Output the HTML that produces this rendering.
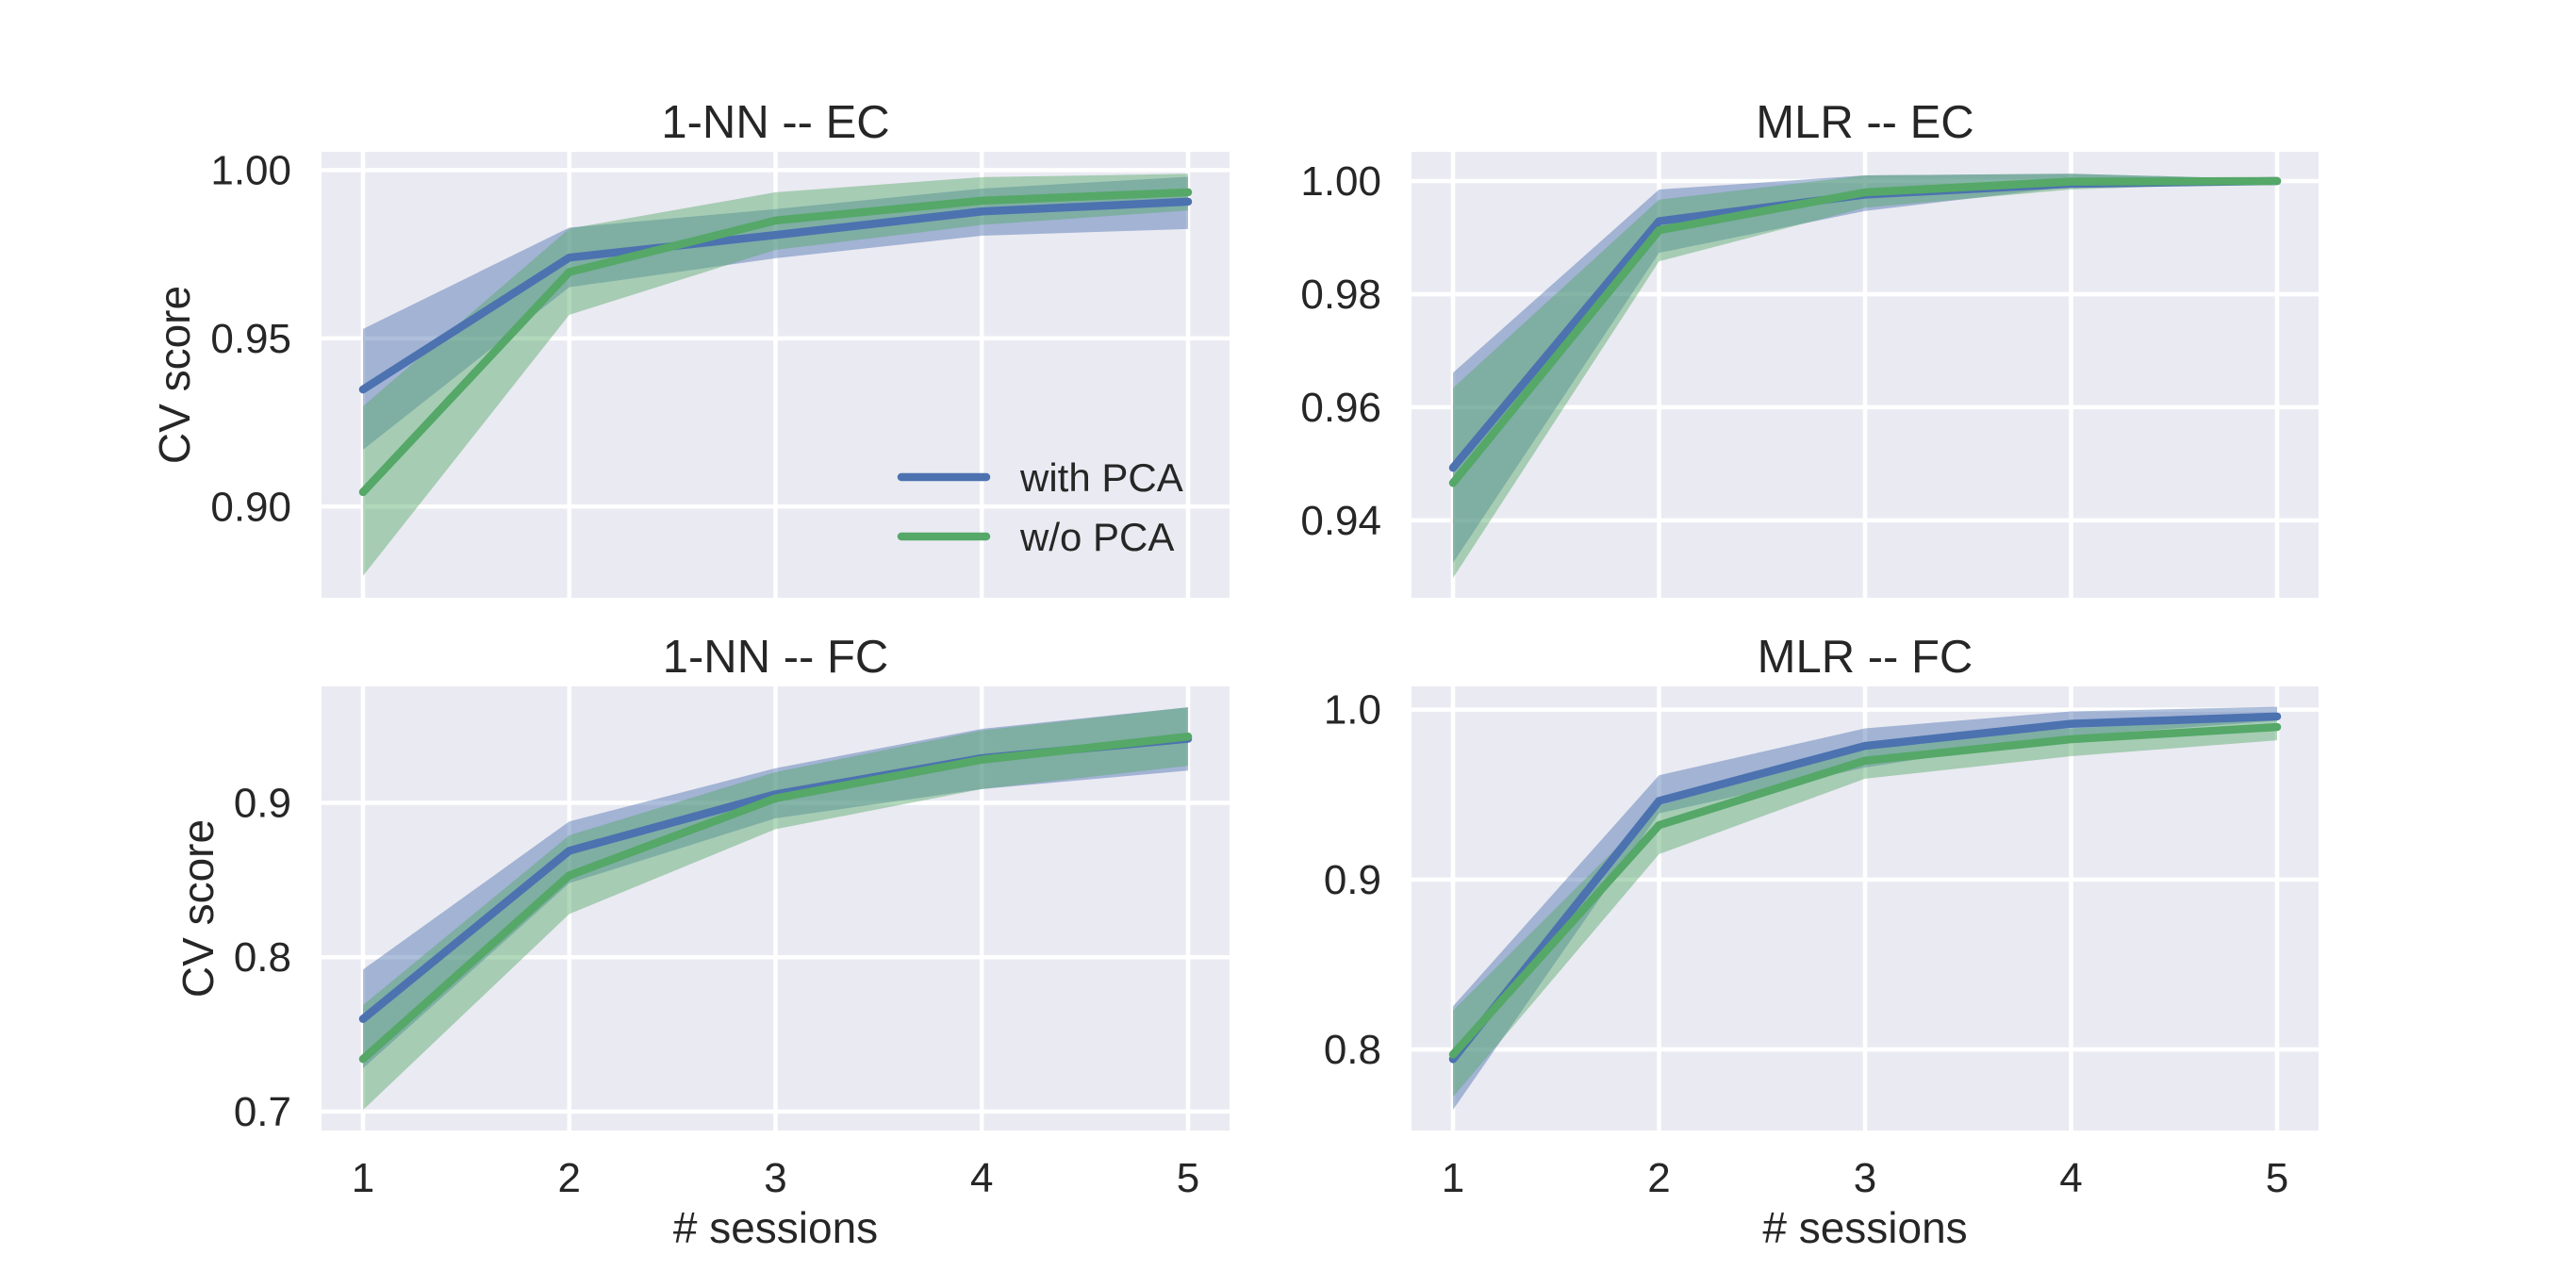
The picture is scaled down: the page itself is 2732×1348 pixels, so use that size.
<!DOCTYPE html>
<html><head><meta charset="utf-8">
<style>
html,body{margin:0;padding:0;background:#fff;}
svg{display:block;font-family:"Liberation Sans",Arial,sans-serif;}
</style></head>
<body>
<svg id="fig" width="2732" height="1348" viewBox="0 0 2732 1348" xmlns="http://www.w3.org/2000/svg"></svg>
<script>
const sessions = [1, 2, 3, 4, 5];
const seriesNames = ["with PCA", "w/o PCA"];
// 1-NN -- EC
const nnEcPcaMean = [0.9348, 0.974, 0.9807, 0.9877, 0.9906];
const nnEcPcaLow  = [0.9169, 0.9652, 0.9738, 0.9805, 0.9825];
const nnEcPcaHigh = [0.9528, 0.9829, 0.9884, 0.9945, 0.998];
const nnEcRawMean = [0.9043, 0.9697, 0.985, 0.9909, 0.9934];
const nnEcRawLow  = [0.8794, 0.957, 0.9763, 0.9837, 0.988];
const nnEcRawHigh = [0.9298, 0.9826, 0.9934, 0.9979, 0.9989];
const nnEcTicks = [0.90, 0.95, 1.00];
const nnEcTickLabels = ["0.90", "0.95", "1.00"];
// MLR -- EC
const mlrEcPcaMean = [0.9493, 0.9929, 0.9976, 0.9995, 1.0];
const mlrEcPcaLow  = [0.9325, 0.9873, 0.9947, 0.999, 0.9998];
const mlrEcPcaHigh = [0.9661, 0.9985, 1.001, 1.0013, 1.0003];
const mlrEcRawMean = [0.9466, 0.9913, 0.998, 0.9999, 1.0];
const mlrEcRawLow  = [0.9298, 0.9858, 0.9953, 0.9985, 0.9997];
const mlrEcRawHigh = [0.9634, 0.9967, 1.001, 1.0013, 1.0003];
const mlrEcTicks = [0.94, 0.96, 0.98, 1.00];
const mlrEcTickLabels = ["0.94", "0.96", "0.98", "1.00"];
// 1-NN -- FC
const nnFcPcaMean = [0.760, 0.869, 0.9056, 0.929, 0.9416];
const nnFcPcaLow  = [0.728, 0.848, 0.89, 0.909, 0.921];
const nnFcPcaHigh = [0.792, 0.888, 0.9225, 0.948, 0.962];
const nnFcRawMean = [0.734, 0.853, 0.903, 0.928, 0.943];
const nnFcRawLow  = [0.701, 0.828, 0.883, 0.909, 0.924];
const nnFcRawHigh = [0.769, 0.879, 0.92, 0.947, 0.962];
const nnFcTicks = [0.7, 0.8, 0.9];
const nnFcTickLabels = ["0.7", "0.8", "0.9"];
// MLR -- FC
const mlrFcPcaMean = [0.7943, 0.9463, 0.9787, 0.9917, 0.996];
const mlrFcPcaLow  = [0.7645, 0.939, 0.966, 0.9845, 0.9935];
const mlrFcPcaHigh = [0.8254, 0.9614, 0.989, 0.999, 1.0017];
const mlrFcRawMean = [0.797, 0.932, 0.970, 0.9826, 0.9898];
const mlrFcRawLow  = [0.772, 0.915, 0.9594, 0.9726, 0.982];
const mlrFcRawHigh = [0.823, 0.9435, 0.980, 0.989, 0.995];
const mlrFcTicks = [0.8, 0.9, 1.0];
const mlrFcTickLabels = ["0.8", "0.9", "1.0"];

const NS = "http://www.w3.org/2000/svg";
const svg = document.getElementById("fig");
const BLUE = "#4C72B0", GREEN = "#55A868", TXT = "#262626";
function mk(tag, attrs, parent) {
  const e = document.createElementNS(NS, tag);
  for (const k in attrs) e.setAttribute(k, attrs[k]);
  (parent || svg).appendChild(e);
  return e;
}
const panels = [
  {key:"nn-ec", title:"1-NN -- EC", x0:341, x1:1304, y0:161, y1:634, ymin:0.8729, ymax:1.00543, ticks:nnEcTicks, labels:nnEcTickLabels,
   pm:nnEcPcaMean, pl:nnEcPcaLow, ph:nnEcPcaHigh, rm:nnEcRawMean, rl:nnEcRawLow, rh:nnEcRawHigh, ylabel:true, xlabel:false, legend:true},
  {key:"mlr-ec", title:"MLR -- EC", x0:1497, x1:2459, y0:161, y1:634, ymin:0.9263, ymax:1.00517, ticks:mlrEcTicks, labels:mlrEcTickLabels,
   pm:mlrEcPcaMean, pl:mlrEcPcaLow, ph:mlrEcPcaHigh, rm:mlrEcRawMean, rl:mlrEcRawLow, rh:mlrEcRawHigh, ylabel:false, xlabel:false},
  {key:"nn-fc", title:"1-NN -- FC", x0:341, x1:1304, y0:728, y1:1199, ymin:0.6877, ymax:0.9755, ticks:nnFcTicks, labels:nnFcTickLabels,
   pm:nnFcPcaMean, pl:nnFcPcaLow, ph:nnFcPcaHigh, rm:nnFcRawMean, rl:nnFcRawLow, rh:nnFcRawHigh, ylabel:true, xlabel:true},
  {key:"mlr-fc", title:"MLR -- FC", x0:1497, x1:2459, y0:728, y1:1199, ymin:0.7523, ymax:1.0137, ticks:mlrFcTicks, labels:mlrFcTickLabels,
   pm:mlrFcPcaMean, pl:mlrFcPcaLow, ph:mlrFcPcaHigh, rm:mlrFcRawMean, rl:mlrFcRawLow, rh:mlrFcRawHigh, ylabel:false, xlabel:true}
];
panels.forEach(p => {
  const g = mk("g", {});
  
  
  const cx0 = p.x0 + 44, cx1 = p.x1 - 44;
  const X = s => cx0 + (s - 1) * (cx1 - cx0) / 4;
  const Y = v => p.y1 - (v - p.ymin) / (p.ymax - p.ymin) * (p.y1 - p.y0);
  const bg = mk("rect", {x:p.x0, y:p.y0, width:p.x1-p.x0, height:p.y1-p.y0, fill:"#EAEAF2"}, g);
  
  
  const clipId = "clip-" + p.key;
  const cp = mk("clipPath", {id:clipId}, g);
  mk("rect", {x:p.x0, y:p.y0, width:p.x1-p.x0, height:p.y1-p.y0}, cp);
  p.ticks.forEach((t, i) => {
    const gl = mk("line", {x1:p.x0, x2:p.x1, y1:Y(t), y2:Y(t), stroke:"#fff", "stroke-width":4.5}, g);
    
    
    const tl = mk("text", {x:p.x0-32, y:Y(t)+15, "text-anchor":"end", "font-size":44, fill:TXT}, g);
    tl.textContent = p.labels[i];
    
    
  });
  sessions.forEach(s => {
    const gl = mk("line", {x1:X(s), x2:X(s), y1:p.y0, y2:p.y1, stroke:"#fff", "stroke-width":4.5}, g);
    
    
    if (p.xlabel) {
      const tl = mk("text", {x:X(s), y:1264, "text-anchor":"middle", "font-size":44, fill:TXT}, g);
      tl.textContent = String(s);
      
      
    }
  });
  const dg = mk("g", {"clip-path":"url(#"+clipId+")"}, g);
  const series = [[p.pm, p.pl, p.ph, BLUE, "with-pca"], [p.rm, p.rl, p.rh, GREEN, "without-pca"]];
  series.forEach(([m, lo, hi, col, nm]) => {
    let d = "";
    sessions.forEach((s, i) => { d += (i ? "L" : "M") + X(s) + "," + Y(hi[i]); });
    for (let i = sessions.length - 1; i >= 0; i--) d += "L" + X(sessions[i]) + "," + Y(lo[i]);
    const band = mk("path", {d:d+"Z", fill:col, "fill-opacity":0.45, stroke:"none"}, dg);
    
    
  });
  series.forEach(([m, lo, hi, col, nm]) => {
    const pts = sessions.map((s, i) => X(s) + "," + Y(m[i])).join(" ");
    const ln = mk("polyline", {points:pts, fill:"none", stroke:col, "stroke-width":8.5, "stroke-linecap":"round", "stroke-linejoin":"round"}, dg);
    
    
  });
  const tt = mk("text", {x:(p.x0+p.x1)/2, y:p.y0-15, "text-anchor":"middle", "font-size":49, fill:TXT}, g);
  tt.textContent = p.title;
  
  
  if (p.ylabel) {
    const lx = p.key === "nn-ec" ? 201 : 226;
    const yl = mk("text", {x:lx, y:(p.y0+p.y1)/2, "text-anchor":"middle", "font-size":46, fill:TXT, transform:"rotate(-90 "+lx+" "+((p.y0+p.y1)/2)+")"}, g);
    yl.textContent = "CV score";
    
    
  }
  if (p.xlabel) {
    const xl = mk("text", {x:(p.x0+p.x1)/2, y:1318, "text-anchor":"middle", "font-size":46, fill:TXT}, g);
    xl.textContent = "# sessions";
    
    
  }
  if (p.legend) {
    const lg = mk("g", {}, g);
    
    
    [[BLUE, 506, seriesNames[0]], [GREEN, 569, seriesNames[1]]].forEach(([c, y, t]) => {
      const e = mk("g", {}, lg);
      
      
      mk("line", {x1:956, x2:1046, y1:y, y2:y, stroke:c, "stroke-width":8.5, "stroke-linecap":"round"}, e);
      const tx = mk("text", {x:1082, y:y+15, "font-size":42, fill:TXT}, e);
      tx.textContent = t;
    });
  }
});
</script>
</body></html>
